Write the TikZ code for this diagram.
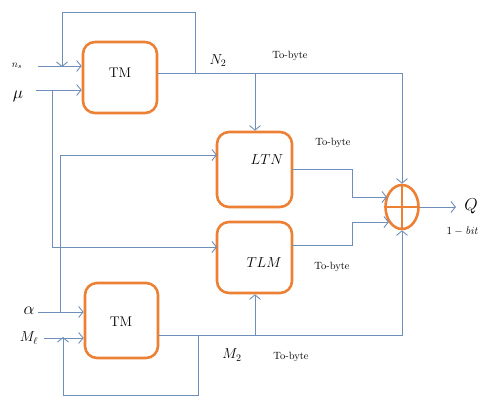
\documentclass[tikz,border=0pt]{standalone}
\usetikzlibrary{arrows.meta,shapes.geometric}
\definecolor{lineB}{RGB}{112,142,186}
\definecolor{orangeC}{RGB}{236,128,52}
\begin{document}
\begin{tikzpicture}[x=1pt,y=-1pt,
  blk/.style={draw=orangeC,line width=2.6pt,rounded corners=12pt,minimum width=#1,inner sep=0pt},
  ln/.style={draw=lineB,line width=0.9pt},
  arr/.style={ln,-{Straight Barb[length=4.5pt,width=11pt]}},
  tb/.style={font=\fontsize{10.5}{12}\selectfont},
  lbl/.style={font=\fontsize{14}{16}\selectfont}]
\useasboundingbox (0,0) rectangle (487,398);
% blocks
\node[blk=74pt,minimum height=71pt] (tm1) at (120,77.5) {};
\node[lbl] (tm1t) at (120,73) {TM};
\node[blk=73pt,minimum height=75pt] (tm2) at (121.5,320.5) {};
\node[lbl] (tm2t) at (121,322) {TM};
\node[blk=75pt,minimum height=75pt] (ltm) at (254.5,169.5) {};
\node[lbl] (ltmt) at (267,160) {$LTN$};
\node[blk=75pt,minimum height=71pt] (tlm) at (254.5,257.5) {};
\node[lbl] (tlmt) at (264,263) {$TLM$};
\node[draw=orangeC,line width=2.6pt,ellipse,minimum width=33pt,minimum height=44pt,inner sep=0pt] (sum) at (402,207) {};
\draw[draw=orangeC,line width=2.6pt] (sum.north) -- (sum.south) (sum.west) -- (sum.east);
% input labels
\node[font=\fontsize{10}{11}\selectfont] (nsl) at (17,66) {$n_s$};
\node[font=\fontsize{17}{19}\selectfont] (mul) at (18,96) {$\mu$};
\node[font=\fontsize{17}{19}\selectfont] (al) at (29,311) {$\alpha$};
\node[lbl] (ml) at (29,338) {$M_\ell$};
\node[lbl] (n2l) at (218,61) {$N_2$};
\node[lbl] (m2l) at (232,355) {$M_2$};
\node[font=\fontsize{16}{18}\selectfont] (ql) at (471,206) {$Q$};
\node[font=\fontsize{11}{13}\selectfont,anchor=west] (bitl) at (443,231) {$1-\mathit{bit}$};
\node[tb] (tb1) at (290,56) {To-byte};
\node[tb] (tb2) at (333,143) {To-byte};
\node[tb] (tb3) at (332,267) {To-byte};
\node[tb] (tb4) at (291,357) {To-byte};
% coordinates
\coordinate (ns) at (38,66);
\coordinate (mu) at (36,90);
\coordinate (al0) at (38,312);
\coordinate (ml0) at (44,338);
\coordinate (j1) at (195,73);
\coordinate (t1) at (62,12);
\coordinate (j2) at (255,73);
\coordinate (b1) at (52,90);
\coordinate (tin) at (217,247);
\coordinate (b2) at (60,312);
\coordinate (lin) at (217,155);
\coordinate (j3) at (198,335);
\coordinate (t3) at (63,395);
\coordinate (j4) at (255,335);
\coordinate (lo) at (292,169);
\coordinate (lm) at (352,197);
\coordinate (s1) at (387,197);
\coordinate (to) at (292,245);
\coordinate (tmid) at (352,222);
\coordinate (s2) at (389,222);
\coordinate (qo) at (456,207);
% connectors
\draw[arr] (ns) -- (tm1.west |- ns);
\draw[arr] (mu) -- (tm1.west |- mu);
\draw[arr] (j1) |- (t1) -- ([yshift=-1pt]t1 |- ns);
\draw[arr] (tm1.east |- j1) -| (sum.north);
\draw[arr] (j2) -- (j2 |- ltm.north);
\draw[arr] (b1) |- (tin);
\draw[arr] (b2) |- (lin);
\draw[arr] (al0) -- (tm2.west |- al0);
\draw[arr] (ml0) -- (tm2.west |- ml0);
\draw[arr] (j3) |- (t3) -- ([yshift=1pt]t3 |- ml0);
\draw[arr] (tm2.east |- j3) -| (sum.south);
\draw[arr] (j4) -- (j4 |- tlm.south);
\draw[arr] (lo) -| (lm) -- (s1);
\draw[arr] (to) -| (tmid) -- (s2);
\draw[arr] (sum.east) -- (qo);
\end{tikzpicture}
\end{document}
